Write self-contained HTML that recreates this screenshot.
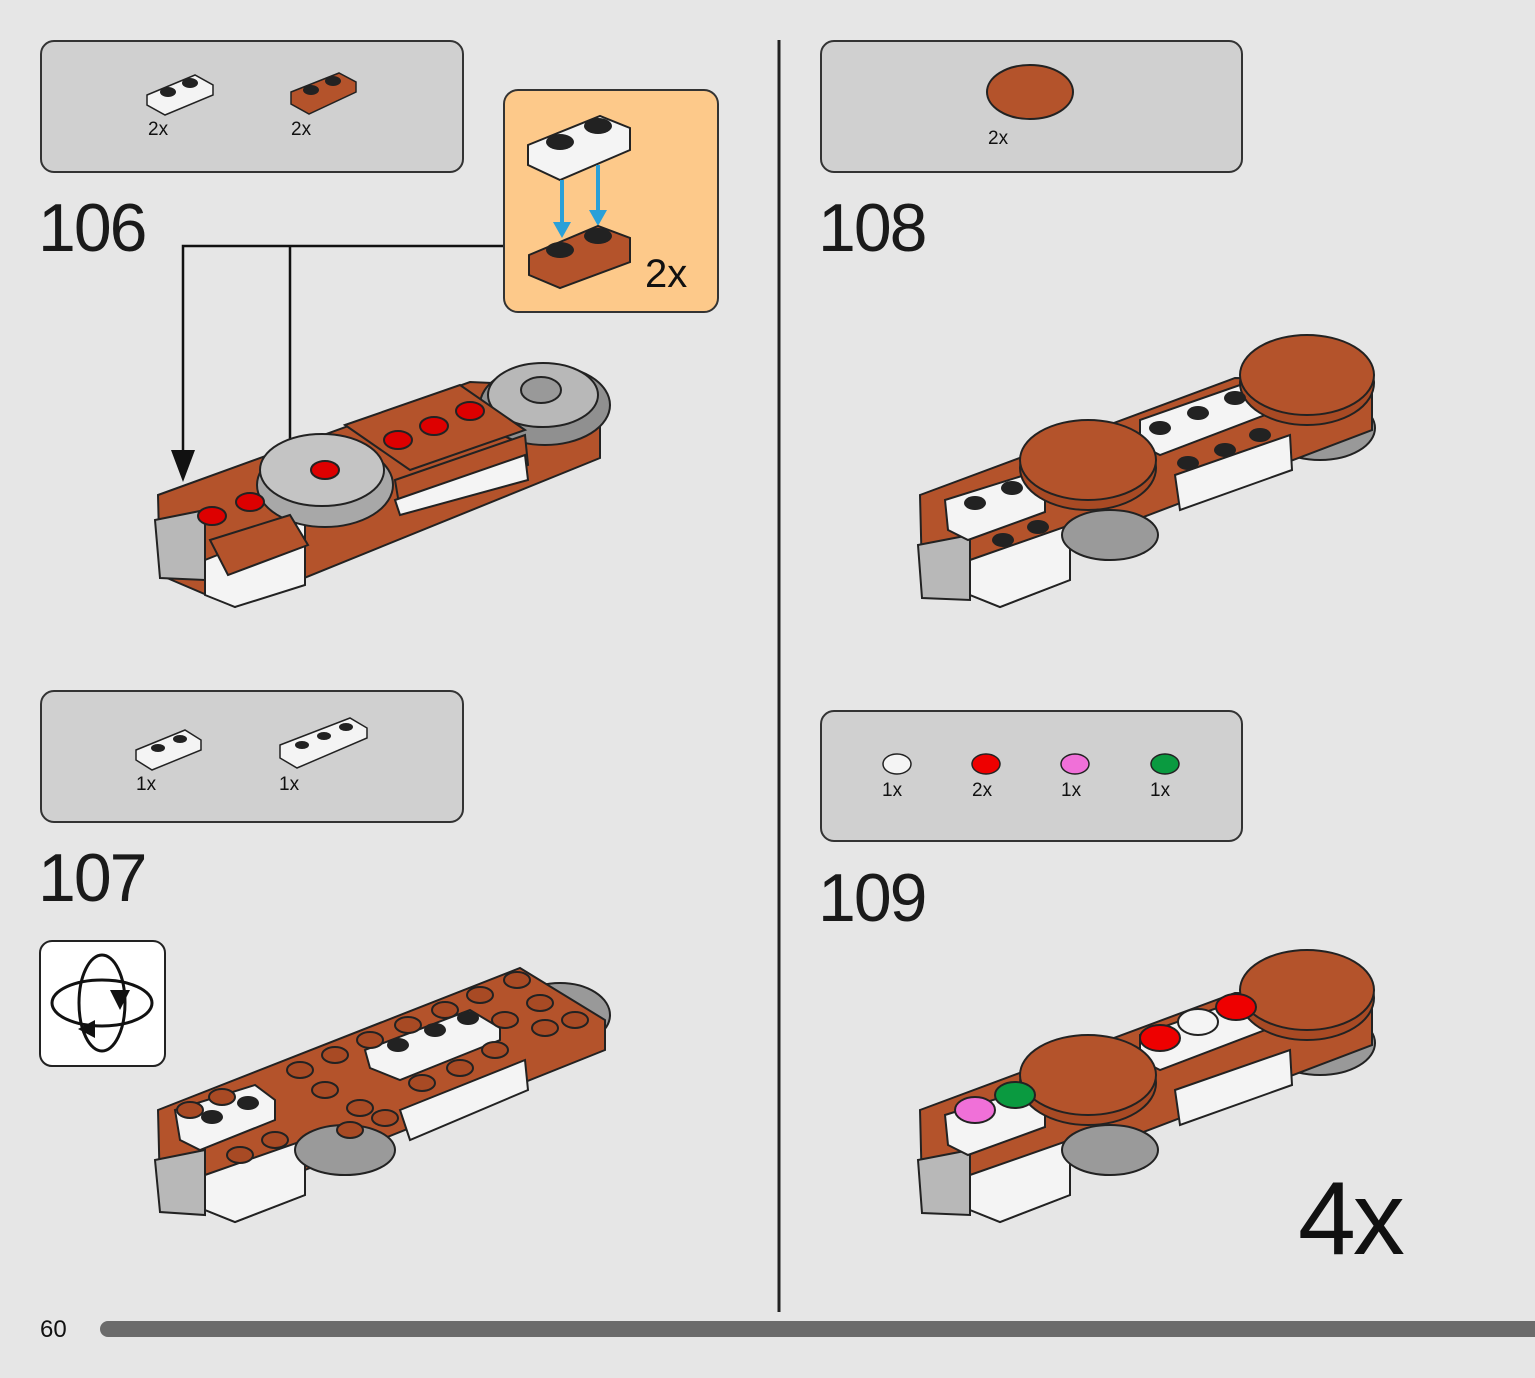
<!DOCTYPE html>
<html><head><meta charset="utf-8"><style>
html,body{margin:0;padding:0;background:#e6e6e6;}
body{width:1535px;height:1378px;overflow:hidden;position:relative;font-family:"Liberation Sans",sans-serif;}
.panel{position:absolute;background:#d0d0d0;border:2px solid #333;border-radius:14px;box-sizing:border-box;}
.num{position:absolute;font-size:68px;color:#1a1a1a;letter-spacing:-2px;line-height:1;}
.lbl{position:absolute;font-size:19px;color:#111;}
</style></head><body>
<svg width="1535" height="1378" style="position:absolute;left:0;top:0">
<defs>
<marker id="ah" markerWidth="10" markerHeight="12" refX="5" refY="11" orient="auto" markerUnits="userSpaceOnUse"><path d="M-8,0 L18,0 L5,30 Z" fill="#111"/></marker>
</defs>
<!-- divider -->
<line x1="779" y1="40" x2="779" y2="1312" stroke="#222" stroke-width="3"/>
<!-- progress -->
<rect x="100" y="1321" width="1450" height="16" rx="8" fill="#6b6b6b"/>
<!-- connectors 106 -->
<polyline points="504,246 183,246 183,455" fill="none" stroke="#111" stroke-width="2.5"/>
<polyline points="290,246 290,488" fill="none" stroke="#111" stroke-width="2.5"/>
<path d="M171,450 L195,450 L183,482 Z" fill="#111"/>
<path d="M278,482 L302,482 L290,514 Z" fill="#111"/>

<!-- orange callout -->
<rect x="504" y="90" width="214" height="222" rx="14" fill="#fdc98a" stroke="#333" stroke-width="2"/>
<polygon points="528,145 600,116 630,128 630,150 560,180 528,165" fill="#f4f4f4" stroke="#222" stroke-width="2"/>
<ellipse cx="560" cy="142" rx="14" ry="8" fill="#222"/><ellipse cx="598" cy="126" rx="14" ry="8" fill="#222"/>
<line x1="562" y1="180" x2="562" y2="230" stroke="#2aa0d8" stroke-width="4"/><line x1="598" y1="165" x2="598" y2="218" stroke="#2aa0d8" stroke-width="4"/>
<path d="M553,222 L571,222 L562,238 Z" fill="#2aa0d8"/><path d="M589,210 L607,210 L598,226 Z" fill="#2aa0d8"/>
<polygon points="529,255 598,226 630,238 630,262 560,288 529,275" fill="#b4532b" stroke="#222" stroke-width="2"/>
<ellipse cx="560" cy="250" rx="14" ry="8" fill="#222"/><ellipse cx="598" cy="236" rx="14" ry="8" fill="#222"/>

<!-- parts panel icons -->
<g stroke="#222" stroke-width="1.5">
<polygon points="147,95 195,75 213,85 213,95 165,115 147,105" fill="#f4f4f4"/>
<polygon points="291,92 339,73 356,82 356,92 309,114 291,104" fill="#b4532b"/>
<polygon points="136,750 185,730 201,740 201,750 152,770 136,760" fill="#f4f4f4"/>
<polygon points="280,745 350,718 367,728 367,738 297,768 280,758" fill="#f4f4f4"/>
</g>
<g fill="#222"><ellipse cx="168" cy="92" rx="8" ry="5"/><ellipse cx="190" cy="83" rx="8" ry="5"/><ellipse cx="311" cy="90" rx="8" ry="5"/><ellipse cx="333" cy="81" rx="8" ry="5"/>
<ellipse cx="158" cy="748" rx="7" ry="4"/><ellipse cx="180" cy="739" rx="7" ry="4"/><ellipse cx="302" cy="745" rx="7" ry="4"/><ellipse cx="324" cy="736" rx="7" ry="4"/><ellipse cx="346" cy="727" rx="7" ry="4"/></g>
<ellipse cx="1030" cy="92" rx="43" ry="27" fill="#b4532b" stroke="#222" stroke-width="2"/>
<g stroke="#222" stroke-width="1.5">
<ellipse cx="897" cy="764" rx="14" ry="10" fill="#f4f4f4"/><ellipse cx="986" cy="764" rx="14" ry="10" fill="#e00"/><ellipse cx="1075" cy="764" rx="14" ry="10" fill="#f070d8"/><ellipse cx="1165" cy="764" rx="14" ry="10" fill="#0a9a40"/></g>

<!-- model 106 -->
<g stroke="#222" stroke-width="2">
<polygon points="158,495 470,382 600,388 600,458 250,600 235,607 160,575" fill="#b4532b"/>
<polygon points="155,520 205,510 205,580 160,578" fill="#b8b8b8"/>
<polygon points="205,560 305,520 305,585 235,607 205,595" fill="#f4f4f4"/>
<ellipse cx="325" cy="485" rx="68" ry="42" fill="#a8a8a8"/>
<ellipse cx="322" cy="470" rx="62" ry="36" fill="#c4c4c4"/>
<ellipse cx="545" cy="405" rx="65" ry="40" fill="#909090"/>
<ellipse cx="543" cy="395" rx="55" ry="32" fill="#b8b8b8"/>
<ellipse cx="541" cy="390" rx="20" ry="13" fill="#999"/>
<polygon points="345,425 460,385 525,430 410,470" fill="#b4532b"/>
<polygon points="395,480 525,435 528,465 400,510" fill="#b4532b"/>
<polygon points="395,500 525,455 528,480 400,515" fill="#f4f4f4"/>
<polygon points="210,540 290,515 308,545 228,575" fill="#b4532b"/>
</g>
<g fill="#d00" stroke="#222" stroke-width="2"><ellipse cx="325" cy="470" rx="14" ry="9"/><ellipse cx="398" cy="440" rx="14" ry="9"/><ellipse cx="434" cy="426" rx="14" ry="9"/><ellipse cx="470" cy="411" rx="14" ry="9"/><ellipse cx="212" cy="516" rx="14" ry="9"/><ellipse cx="250" cy="502" rx="14" ry="9"/></g>

<!-- model 107 -->
<g stroke="#222" stroke-width="2">
<ellipse cx="560" cy="1015" rx="50" ry="32" fill="#999"/>
<polygon points="158,1110 520,968 605,1020 605,1050 305,1170 305,1195 235,1222 205,1210 160,1190" fill="#b4532b"/>
<polygon points="155,1160 205,1150 205,1215 160,1212" fill="#b8b8b8"/>
<polygon points="205,1175 305,1140 305,1195 235,1222 205,1210" fill="#f4f4f4"/>
<polygon points="400,1110 525,1060 528,1090 410,1140" fill="#f4f4f4"/>
<ellipse cx="345" cy="1150" rx="50" ry="25" fill="#9a9a9a"/>
<polygon points="175,1110 255,1085 275,1100 275,1120 200,1150 180,1140" fill="#f4f4f4"/>
<polygon points="365,1050 470,1010 500,1028 500,1040 400,1080 370,1068" fill="#f4f4f4"/>
</g>
<g fill="#a84a24" stroke="#222" stroke-width="2">
<ellipse cx="300" cy="1070" rx="13" ry="8"/><ellipse cx="335" cy="1055" rx="13" ry="8"/><ellipse cx="370" cy="1040" rx="13" ry="8"/><ellipse cx="408" cy="1025" rx="13" ry="8"/><ellipse cx="445" cy="1010" rx="13" ry="8"/><ellipse cx="480" cy="995" rx="13" ry="8"/><ellipse cx="517" cy="980" rx="13" ry="8"/>
<ellipse cx="325" cy="1090" rx="13" ry="8"/><ellipse cx="360" cy="1108" rx="13" ry="8"/><ellipse cx="505" cy="1020" rx="13" ry="8"/><ellipse cx="540" cy="1003" rx="13" ry="8"/><ellipse cx="545" cy="1028" rx="13" ry="8"/><ellipse cx="575" cy="1020" rx="13" ry="8"/>
<ellipse cx="422" cy="1083" rx="13" ry="8"/><ellipse cx="460" cy="1068" rx="13" ry="8"/><ellipse cx="495" cy="1050" rx="13" ry="8"/><ellipse cx="350" cy="1130" rx="13" ry="8"/><ellipse cx="385" cy="1118" rx="13" ry="8"/>
<ellipse cx="190" cy="1110" rx="13" ry="8"/><ellipse cx="222" cy="1097" rx="13" ry="8"/><ellipse cx="240" cy="1155" rx="13" ry="8"/><ellipse cx="275" cy="1140" rx="13" ry="8"/></g>
<g fill="#222"><ellipse cx="212" cy="1117" rx="11" ry="7"/><ellipse cx="248" cy="1103" rx="11" ry="7"/><ellipse cx="398" cy="1045" rx="11" ry="7"/><ellipse cx="435" cy="1030" rx="11" ry="7"/><ellipse cx="468" cy="1018" rx="11" ry="7"/></g>

<!-- model 108 -->
<g id="m108" stroke="#222" stroke-width="2">
<ellipse cx="1320" cy="428" rx="55" ry="32" fill="#999"/>
<polygon points="920,495 1235,378 1372,380 1372,430 1070,545 1070,580 1000,607 970,595 922,575" fill="#b4532b"/>
<polygon points="918,545 970,535 970,600 922,598" fill="#b8b8b8"/>
<polygon points="970,560 1070,525 1070,580 1000,607 970,595" fill="#f4f4f4"/>
<polygon points="1175,475 1290,435 1292,470 1180,510" fill="#f4f4f4"/>
<ellipse cx="1110" cy="535" rx="48" ry="25" fill="#9a9a9a"/>
<polygon points="945,500 1025,475 1045,490 1045,512 968,540 948,530" fill="#f4f4f4"/>
<polygon points="1140,420 1240,385 1265,400 1265,415 1160,455 1140,445" fill="#f4f4f4"/>
<ellipse cx="1088" cy="468" rx="68" ry="42" fill="#a84a24"/>
<ellipse cx="1088" cy="460" rx="68" ry="40" fill="#b4532b"/>
<ellipse cx="1307" cy="383" rx="67" ry="42" fill="#a84a24"/>
<ellipse cx="1307" cy="375" rx="67" ry="40" fill="#b4532b"/>
</g>
<g fill="#222"><ellipse cx="975" cy="503" rx="11" ry="7"/><ellipse cx="1012" cy="488" rx="11" ry="7"/><ellipse cx="1160" cy="428" rx="11" ry="7"/><ellipse cx="1198" cy="413" rx="11" ry="7"/><ellipse cx="1235" cy="398" rx="11" ry="7"/>
<ellipse cx="1003" cy="540" rx="11" ry="7"/><ellipse cx="1038" cy="527" rx="11" ry="7"/><ellipse cx="1188" cy="463" rx="11" ry="7"/><ellipse cx="1225" cy="450" rx="11" ry="7"/><ellipse cx="1260" cy="435" rx="11" ry="7"/></g>

<!-- model 109 -->
<g transform="translate(0,615)">
<use href="#m108"/>
</g>
<g stroke="#222" stroke-width="2">
<ellipse cx="1160" cy="1038" rx="20" ry="13" fill="#e00"/><ellipse cx="1198" cy="1022" rx="20" ry="13" fill="#f4f4f4"/><ellipse cx="1236" cy="1007" rx="20" ry="13" fill="#e00"/>
<ellipse cx="975" cy="1110" rx="20" ry="13" fill="#f070d8"/><ellipse cx="1015" cy="1095" rx="20" ry="13" fill="#0a9a40"/>
</g>

<!-- rotate icon -->
<rect x="40" y="941" width="125" height="125" rx="12" fill="#fff" stroke="#222" stroke-width="2"/>
<ellipse cx="102" cy="1003" rx="50" ry="23" fill="none" stroke="#111" stroke-width="3"/>
<ellipse cx="102" cy="1003" rx="23" ry="48" fill="none" stroke="#111" stroke-width="3"/>
<path d="M110,990 L130,990 L120,1010 Z" fill="#111"/>
<path d="M95,1020 L95,1038 L78,1029 Z" fill="#111"/>
</svg>

<div class="panel" style="left:40px;top:40px;width:424px;height:133px"></div>
<div class="panel" style="left:820px;top:40px;width:423px;height:133px"></div>
<div class="panel" style="left:40px;top:690px;width:424px;height:133px"></div>
<div class="panel" style="left:820px;top:710px;width:423px;height:132px"></div>
<svg width="1535" height="1378" style="position:absolute;left:0;top:0">
<g stroke="#222" stroke-width="1.5">
<polygon points="147,95 195,75 213,85 213,95 165,115 147,105" fill="#f4f4f4"/>
<polygon points="291,92 339,73 356,82 356,92 309,114 291,104" fill="#b4532b"/>
<polygon points="136,750 185,730 201,740 201,750 152,770 136,760" fill="#f4f4f4"/>
<polygon points="280,745 350,718 367,728 367,738 297,768 280,758" fill="#f4f4f4"/>
</g>
<g fill="#222"><ellipse cx="168" cy="92" rx="8" ry="5"/><ellipse cx="190" cy="83" rx="8" ry="5"/><ellipse cx="311" cy="90" rx="8" ry="5"/><ellipse cx="333" cy="81" rx="8" ry="5"/>
<ellipse cx="158" cy="748" rx="7" ry="4"/><ellipse cx="180" cy="739" rx="7" ry="4"/><ellipse cx="302" cy="745" rx="7" ry="4"/><ellipse cx="324" cy="736" rx="7" ry="4"/><ellipse cx="346" cy="727" rx="7" ry="4"/></g>
<ellipse cx="1030" cy="92" rx="43" ry="27" fill="#b4532b" stroke="#222" stroke-width="2"/>
<g stroke="#222" stroke-width="1.5">
<ellipse cx="897" cy="764" rx="14" ry="10" fill="#f4f4f4"/><ellipse cx="986" cy="764" rx="14" ry="10" fill="#e00"/><ellipse cx="1075" cy="764" rx="14" ry="10" fill="#f070d8"/><ellipse cx="1165" cy="764" rx="14" ry="10" fill="#0a9a40"/></g>
</svg>
<div class="lbl" style="left:148px;top:119px">2x</div>
<div class="lbl" style="left:291px;top:119px">2x</div>
<div class="lbl" style="left:988px;top:128px">2x</div>
<div class="lbl" style="left:136px;top:774px">1x</div>
<div class="lbl" style="left:279px;top:774px">1x</div>
<div class="lbl" style="left:882px;top:780px">1x</div>
<div class="lbl" style="left:972px;top:780px">2x</div>
<div class="lbl" style="left:1061px;top:780px">1x</div>
<div class="lbl" style="left:1150px;top:780px">1x</div>
<div class="num" style="left:38px;top:194px">106</div>
<div class="num" style="left:818px;top:194px">108</div>
<div class="num" style="left:38px;top:844px">107</div>
<div class="num" style="left:818px;top:864px">109</div>
<div style="position:absolute;left:645px;top:252px;font-size:40px;color:#111">2x</div>
<div style="position:absolute;left:1298px;top:1160px;font-size:104px;color:#111;letter-spacing:-3px">4x</div>
<div style="position:absolute;left:40px;top:1316px;font-size:24px;color:#111">60</div>
</body></html>
